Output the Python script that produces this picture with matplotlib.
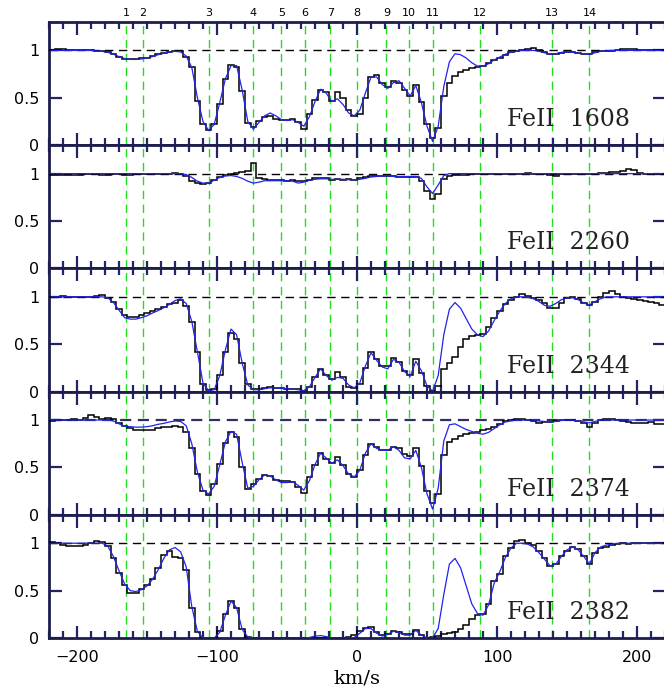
import numpy as np
import matplotlib
matplotlib.use("Agg")
import matplotlib.pyplot as plt
from matplotlib.ticker import MultipleLocator

# ---------------- data ----------------
ions = ["FeII  1608", "FeII  2260", "FeII  2344", "FeII  2374", "FeII  2382"]
comp_ids = ["1", "2", "3", "4", "5", "6", "7", "8", "9", "10", "11", "12", "13", "14"]
comp_vel = [-165, -153, -106, -74, -54, -37, -19, 0, 21, 37, 54, 88, 139, 166]

vel_edges = np.arange(-220, 221, 4)   # pixel bin edges (km/s)
vel = np.arange(-218, 219, 4)         # pixel centres (km/s)

flux_1608 = [
    1.0, 1.01, 1.01, 1.0, 1.0, 1.0, 1.0, 1.0, 0.995, 0.99,
    0.98, 0.96, 0.93, 0.91, 0.905, 0.91, 0.915, 0.925, 0.94, 0.96,
    0.975, 0.985, 0.99, 0.99, 0.93, 0.82, 0.47, 0.22, 0.16, 0.22,
    0.43, 0.70, 0.85, 0.82, 0.57, 0.23, 0.19, 0.26, 0.30, 0.31,
    0.28, 0.27, 0.27, 0.28, 0.24, 0.17, 0.33, 0.48, 0.58, 0.56,
    0.47, 0.56, 0.50, 0.37, 0.31, 0.33, 0.50, 0.72, 0.74, 0.66,
    0.61, 0.68, 0.66, 0.58, 0.52, 0.63, 0.46, 0.22, 0.08, 0.18,
    0.52, 0.66, 0.73, 0.77, 0.79, 0.81, 0.83, 0.84, 0.87, 0.90,
    0.92, 0.95, 0.98, 0.99, 1.0, 1.02, 1.03, 1.0, 0.98, 0.96,
    0.96, 0.975, 0.985, 0.98, 0.97, 0.965, 0.96, 0.98, 0.99, 0.995,
    0.99, 1.0, 1.01, 1.01, 1.02, 1.0, 1.0, 1.0, 1.0, 1.0,
]
model_1608 = [
    1.0, 1.0, 1.0, 1.0, 1.0, 1.0, 1.0, 1.0, 0.995, 0.99,
    0.98, 0.96, 0.935, 0.915, 0.905, 0.905, 0.91, 0.92, 0.935, 0.955,
    0.97, 0.985, 0.99, 0.985, 0.94, 0.82, 0.50, 0.25, 0.155, 0.22,
    0.45, 0.70, 0.84, 0.84, 0.58, 0.25, 0.17, 0.24, 0.31, 0.34,
    0.31, 0.27, 0.26, 0.27, 0.24, 0.20, 0.30, 0.46, 0.59, 0.55,
    0.46, 0.49, 0.43, 0.34, 0.31, 0.37, 0.55, 0.72, 0.72, 0.64,
    0.60, 0.66, 0.68, 0.60, 0.52, 0.63, 0.45, 0.20, 0.04, 0.20,
    0.62, 0.88, 0.965, 0.955, 0.92, 0.87, 0.835, 0.835, 0.86, 0.90,
    0.93, 0.96, 0.98, 0.99, 1.0, 1.0, 1.0, 0.99, 0.975, 0.96,
    0.965, 0.98, 0.985, 0.98, 0.97, 0.965, 0.96, 0.975, 0.99, 0.995,
    1.0, 1.0, 1.0, 1.0, 1.0, 1.0, 1.0, 1.0, 1.0, 1.0,
]

flux_2260 = [
    0.99, 0.985, 0.985, 0.99, 0.99, 0.99, 0.995, 1.0, 0.995, 0.99,
    0.99, 0.995, 0.995, 0.99, 0.99, 1.0, 1.0, 1.0, 1.0, 1.0,
    1.0, 1.0, 1.01, 1.0, 0.97, 0.92, 0.90, 0.89, 0.90, 0.93,
    0.96, 0.99, 1.0, 1.01, 1.02, 1.03, 1.11, 0.95, 0.94, 0.93,
    0.93, 0.93, 0.925, 0.93, 0.92, 0.92, 0.935, 0.95, 0.95, 0.95,
    0.93, 0.94, 0.935, 0.94, 0.935, 0.95, 0.96, 0.97, 0.97, 0.975,
    0.97, 0.97, 0.965, 0.96, 0.96, 0.96, 0.92, 0.82, 0.73, 0.78,
    0.94, 0.98, 0.99, 0.99, 0.99, 1.0, 1.0, 0.995, 1.0, 1.0,
    1.0, 1.0, 1.0, 1.0, 1.0, 1.005, 1.0, 1.0, 0.995, 0.985,
    0.98, 0.995, 1.0, 1.0, 1.0, 1.0, 1.0, 1.0, 1.01, 1.01,
    1.02, 1.02, 1.03, 1.05, 1.04, 1.01, 1.0, 1.0, 1.0, 1.0,
]
model_2260 = [
    1.0, 1.0, 1.0, 1.0, 1.0, 1.0, 1.0, 1.0, 1.0, 1.0,
    1.0, 1.0, 1.0, 1.0, 1.0, 1.0, 1.0, 1.0, 1.0, 1.0,
    1.0, 1.0, 1.0, 1.0, 0.99, 0.96, 0.92, 0.90, 0.90, 0.93,
    0.96, 0.975, 0.98, 0.97, 0.95, 0.92, 0.90, 0.91, 0.925, 0.925,
    0.925, 0.925, 0.925, 0.92, 0.90, 0.91, 0.93, 0.94, 0.945, 0.945,
    0.94, 0.94, 0.94, 0.935, 0.935, 0.94, 0.95, 0.965, 0.97, 0.975,
    0.975, 0.97, 0.965, 0.97, 0.97, 0.97, 0.95, 0.86, 0.79, 0.88,
    0.98, 1.0, 1.0, 1.0, 1.0, 1.0, 1.0, 1.0, 1.0, 1.0,
    1.0, 1.0, 1.0, 1.0, 1.0, 1.0, 1.0, 1.0, 1.0, 1.0,
    1.0, 1.0, 1.0, 1.0, 1.0, 1.0, 1.0, 1.0, 1.0, 1.0,
    1.0, 1.0, 1.0, 1.0, 1.0, 1.0, 1.0, 1.0, 1.0, 1.0,
]

flux_2344 = [
    1.0, 1.0, 1.01, 1.0, 1.0, 0.995, 1.0, 1.0, 1.01, 1.02,
    0.99, 0.95, 0.87, 0.81, 0.79, 0.79, 0.81, 0.83, 0.85, 0.87,
    0.89, 0.92, 0.94, 0.97, 0.90, 0.73, 0.42, 0.08, 0.015, 0.03,
    0.18, 0.42, 0.62, 0.55, 0.30, 0.08, 0.025, 0.03, 0.035, 0.045,
    0.04, 0.035, 0.03, 0.03, 0.025, 0.01, 0.05, 0.15, 0.24, 0.17,
    0.13, 0.21, 0.15, 0.05, 0.04, 0.08, 0.25, 0.42, 0.34, 0.27,
    0.27, 0.35, 0.31, 0.22, 0.17, 0.34, 0.20, 0.06, 0.01, 0.06,
    0.24, 0.30, 0.37, 0.47, 0.55, 0.59, 0.60, 0.61, 0.68, 0.78,
    0.85, 0.92, 0.97, 1.0, 1.03, 1.01, 0.99, 0.97, 0.93, 0.88,
    0.88, 0.94, 0.99, 1.0, 0.98, 0.94, 0.91, 0.95, 1.0, 1.04,
    1.06, 1.03, 1.0, 0.99, 0.98, 0.97, 0.96, 0.95, 0.93, 0.91,
]
model_2344 = [
    1.0, 1.0, 1.0, 1.0, 1.0, 1.0, 1.0, 1.0, 1.0, 1.0,
    0.99, 0.94, 0.86, 0.78, 0.765, 0.765, 0.78, 0.80, 0.83, 0.855,
    0.885, 0.92, 0.96, 0.98, 0.93, 0.74, 0.42, 0.09, 0.01, 0.02,
    0.17, 0.44, 0.66, 0.60, 0.30, 0.07, 0.02, 0.02, 0.03, 0.04,
    0.04, 0.035, 0.03, 0.025, 0.02, 0.01, 0.05, 0.15, 0.24, 0.17,
    0.12, 0.15, 0.14, 0.07, 0.04, 0.09, 0.27, 0.41, 0.33, 0.26,
    0.24, 0.34, 0.31, 0.21, 0.16, 0.32, 0.22, 0.06, 0.005, 0.17,
    0.60, 0.87, 0.94, 0.88, 0.77, 0.66, 0.60, 0.58, 0.64, 0.75,
    0.85, 0.93, 0.98, 1.0, 1.0, 0.995, 0.98, 0.95, 0.91, 0.90,
    0.93, 0.97, 0.99, 0.99, 0.97, 0.935, 0.915, 0.95, 0.98, 1.0,
    1.0, 1.0, 1.0, 1.0, 1.0, 1.0, 1.0, 1.0, 1.0, 1.0,
]

flux_2374 = [
    0.99, 1.0, 1.0, 1.0, 1.01, 1.0, 1.02, 1.05, 1.03, 1.015,
    1.02, 1.01, 0.97, 0.94, 0.92, 0.90, 0.89, 0.89, 0.90, 0.92,
    0.925, 0.93, 0.94, 0.93, 0.87, 0.70, 0.43, 0.25, 0.21, 0.32,
    0.54, 0.76, 0.87, 0.82, 0.50, 0.27, 0.32, 0.38, 0.42, 0.41,
    0.37, 0.36, 0.36, 0.35, 0.29, 0.235, 0.40, 0.53, 0.65, 0.59,
    0.55, 0.61, 0.53, 0.43, 0.40, 0.47, 0.63, 0.75, 0.72, 0.68,
    0.68, 0.72, 0.70, 0.64, 0.62, 0.71, 0.52, 0.25, 0.12, 0.22,
    0.63, 0.77, 0.80, 0.83, 0.85, 0.86, 0.87, 0.89, 0.91, 0.93,
    0.96, 0.99, 1.0, 1.01, 1.01, 1.0, 0.985, 0.97, 0.975, 0.98,
    0.99, 1.0, 1.0, 1.0, 0.99, 0.97, 0.93, 0.97, 1.0, 1.01,
    1.015, 1.0, 0.99, 0.98, 0.97, 0.97, 0.97, 0.975, 0.96, 0.96,
]
model_2374 = [
    1.0, 1.0, 1.0, 1.0, 1.0, 1.0, 1.0, 1.0, 1.0, 1.0,
    1.0, 0.99, 0.96, 0.935, 0.93, 0.925, 0.925, 0.93, 0.94, 0.955,
    0.965, 0.98, 0.99, 0.985, 0.94, 0.75, 0.45, 0.26, 0.22, 0.30,
    0.53, 0.77, 0.88, 0.85, 0.55, 0.28, 0.30, 0.37, 0.42, 0.41,
    0.37, 0.34, 0.34, 0.35, 0.31, 0.26, 0.36, 0.53, 0.65, 0.60,
    0.545, 0.58, 0.52, 0.43, 0.40, 0.47, 0.65, 0.75, 0.70, 0.68,
    0.68, 0.72, 0.68, 0.60, 0.59, 0.68, 0.50, 0.22, 0.06, 0.28,
    0.78, 0.95, 0.96, 0.93, 0.90, 0.88, 0.86, 0.85, 0.87, 0.91,
    0.95, 0.98, 0.99, 1.0, 1.0, 1.0, 1.0, 0.99, 0.985, 0.98,
    0.985, 0.995, 1.0, 1.0, 0.99, 0.98, 0.97, 0.985, 1.0, 1.0,
    1.0, 1.0, 1.0, 1.0, 1.0, 1.0, 1.0, 1.0, 1.0, 1.0,
]

flux_2382 = [
    1.01, 1.0, 0.98, 0.97, 0.97, 0.975, 0.98, 1.0, 1.02, 1.015,
    0.97, 0.84, 0.69, 0.56, 0.48, 0.47, 0.52, 0.555, 0.62, 0.74,
    0.88, 0.92, 0.85, 0.84, 0.72, 0.32, 0.06, 0.0, 0.0, 0.0,
    0.07, 0.25, 0.39, 0.32, 0.10, 0.01, 0.0, 0.0, 0.0, 0.0,
    0.0, 0.0, 0.0, 0.0, 0.0, 0.0, 0.0, 0.0, 0.0, 0.0,
    0.0, 0.0, 0.005, 0.01, 0.035, 0.07, 0.11, 0.12, 0.06, 0.035,
    0.04, 0.07, 0.06, 0.04, 0.04, 0.08, 0.03, 0.005, 0.01, 0.02,
    0.04, 0.05, 0.06, 0.09, 0.14, 0.20, 0.24, 0.25, 0.36, 0.60,
    0.68, 0.86, 0.95, 1.02, 1.03, 1.0, 0.98, 0.92, 0.84, 0.76,
    0.78, 0.86, 0.92, 0.955, 0.94, 0.87, 0.78, 0.90, 0.95, 0.96,
    0.98, 0.99, 1.0, 0.995, 1.0, 1.0, 1.0, 1.0, 1.0, 1.0,
]
model_2382 = [
    1.0, 1.0, 1.0, 1.0, 1.0, 1.0, 1.0, 1.0, 1.0, 1.0,
    0.97, 0.86, 0.71, 0.57, 0.50, 0.49, 0.51, 0.55, 0.62, 0.72,
    0.84, 0.93, 0.955, 0.91, 0.75, 0.33, 0.07, 0.0, 0.0, 0.0,
    0.06, 0.24, 0.39, 0.32, 0.09, 0.01, 0.0, 0.0, 0.0, 0.0,
    0.0, 0.0, 0.0, 0.0, 0.0, 0.0, 0.005, 0.02, 0.025, 0.015,
    0.0, 0.0, 0.0, 0.0, 0.005, 0.05, 0.10, 0.10, 0.05, 0.02,
    0.04, 0.07, 0.06, 0.03, 0.03, 0.08, 0.03, 0.0, 0.0, 0.10,
    0.46, 0.78, 0.84, 0.74, 0.55, 0.36, 0.26, 0.24, 0.35, 0.58,
    0.70, 0.85, 0.95, 1.0, 1.0, 0.99, 0.96, 0.90, 0.83, 0.76,
    0.78, 0.86, 0.93, 0.96, 0.93, 0.86, 0.78, 0.90, 0.96, 0.98,
    0.99, 1.0, 1.0, 1.0, 1.0, 1.0, 1.0, 1.0, 1.0, 1.0,
]

fluxes = [flux_1608, flux_2260, flux_2344, flux_2374, flux_2382]
models = [model_1608, model_2260, model_2344, model_2374, model_2382]

# ---------------- style ----------------
NAVY = "#1c1c4e"
TICKC = "#232366"
GREEN = "#22dd22"
BLUE = "#2222ee"
W, H = 664, 694
fig = plt.figure(figsize=(W / 100, H / 100), dpi=100)

left = 49 / W
width = 616 / W
top_px = 22
panel_px = 123.2

for k in range(5):
    bottom = (H - (top_px + panel_px * (k + 1))) / H
    ax = fig.add_axes([left, bottom, width, panel_px / H])
    ax.set_xlim(-220, 220)
    ax.set_ylim(0, 1.3)

    for v in comp_vel:
        ax.axvline(v, color=GREEN, lw=1.0, ls=(0, (6, 4)), zorder=1)
    if k == 3:
        ax.axhline(1.0, color="#303060", lw=1.6, ls=(0, (5, 3)), zorder=2)
    else:
        ax.axhline(1.0, color="black", lw=1.0, ls=(0, (6, 4)), zorder=2)

    ax.stairs(fluxes[k], vel_edges, baseline=None, color="black", lw=1.1, zorder=3)
    ax.plot(vel, models[k], color=BLUE, lw=0.9, zorder=4)

    ax.text(107, 0.2, ions[k], fontfamily="DejaVu Serif", fontsize=17,
            ha="left", va="baseline", color="#222222")

    for sp in ax.spines.values():
        sp.set_color(NAVY)
        sp.set_linewidth(2.0)

    ax.xaxis.set_major_locator(MultipleLocator(100))
    ax.xaxis.set_minor_locator(MultipleLocator(10))
    ax.set_yticks([0, 0.5, 1])
    ax.set_yticklabels(["0", "0.5", "1"])
    ax.tick_params(axis="both", which="both", direction="in", top=True,
                   bottom=True, left=True, right=True, color=TICKC, width=1.6)
    ax.tick_params(axis="both", which="major", length=9)
    ax.tick_params(axis="x", which="minor", length=5)
    ax.tick_params(axis="y", which="major", labelsize=11.5, pad=7)
    ax.tick_params(axis="x", which="major", labelsize=11.5, pad=9)
    if k < 4:
        ax.tick_params(axis="x", labelbottom=False)
    else:
        ax.set_xticks([-200, -100, 0, 100, 200])
        ax.set_xticklabels(["\u2212200", "\u2212100", "0", "100", "200"])
        ax.set_xlabel("km/s", fontfamily="DejaVu Serif", fontsize=14, labelpad=3)
    if k == 0:
        for cid, v in zip(comp_ids, comp_vel):
            ax.annotate(cid, xy=(v, 1.3), xycoords="data", xytext=(0, 4),
                        textcoords="offset points", ha="center", va="baseline",
                        fontsize=8)

fig.savefig("out.png", dpi=100)
